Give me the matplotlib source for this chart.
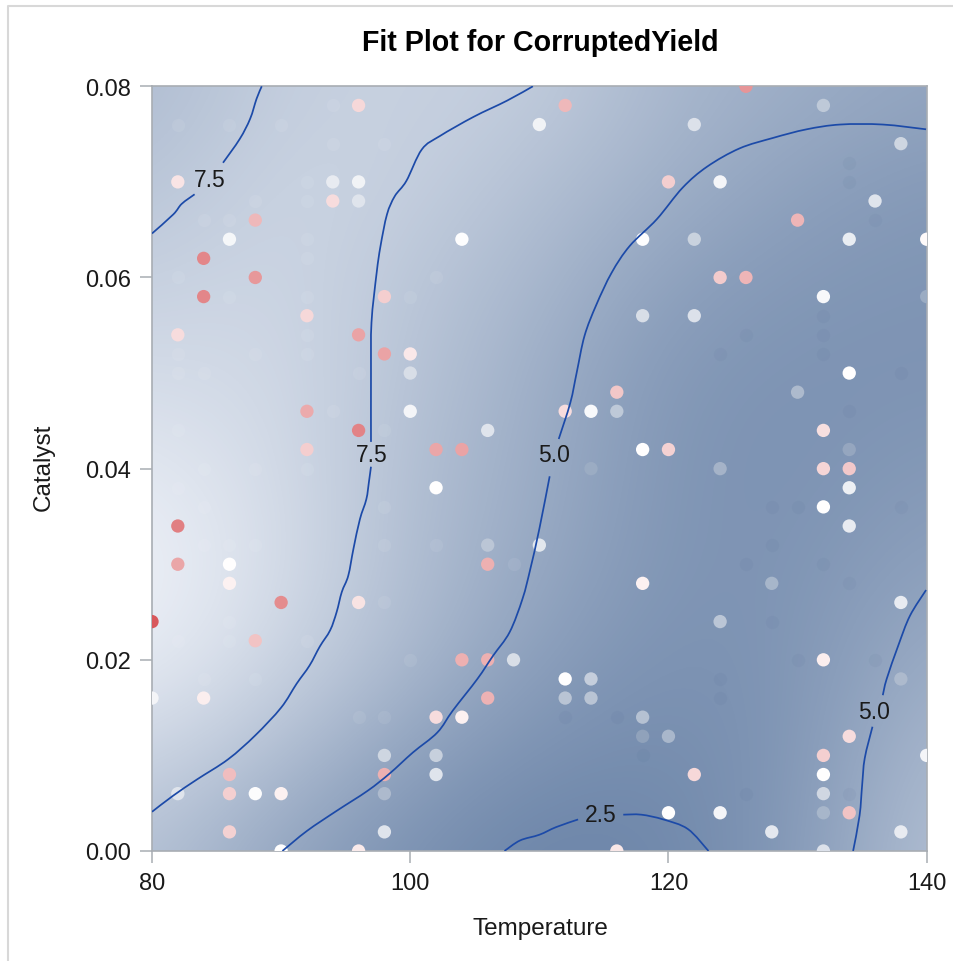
import matplotlib
matplotlib.use("Agg")
import matplotlib.pyplot as plt
from matplotlib.colors import LinearSegmentedColormap, Normalize
from matplotlib.lines import Line2D
from matplotlib.path import Path
from matplotlib.patches import PathPatch

plt.rcParams['font.family'] = ['Liberation Sans', 'DejaVu Sans']

# Fitted surface, read from the shading
grid_T = [80, 90, 100, 110, 120, 130, 140]
grid_C = [0.00, 0.01, 0.02, 0.03, 0.04, 0.05, 0.06, 0.07, 0.08]
grid_Z = [
    [6.62, 4.43, 2.94, 2.06, 2.31, 3.62, 6.49],
    [8.12, 6.31, 4.18, 2.94, 2.62, 3.37, 5.93],
    [9.80, 8.05, 5.87, 3.93, 3.00, 3.31, 5.06],
    [10.17, 8.68, 6.31, 4.68, 3.25, 3.25, 4.18],
    [9.55, 8.49, 6.43, 5.00, 3.31, 3.12, 3.62],
    [8.49, 8.30, 6.80, 5.18, 3.50, 3.19, 3.19],
    [7.68, 8.18, 7.05, 5.81, 4.18, 3.50, 3.31],
    [6.80, 8.00, 7.68, 6.49, 5.31, 4.18, 3.62],
    [6.18, 7.55, 7.80, 7.43, 5.81, 5.12, 4.50],
]

# Observations: temperature, catalyst, residual-like shade
obs_T = [96,82,94,96,94,96,88,86,84,104,88,84,98,92,82,96,98,100,100,92,100,96,106,92,102,104,110,112,
         126,132,122,138,120,124,136,130,118,122,134,140,124,126,132,140,118,122,134,130,116,112,114,116,
         132,134,118,120,114,124,132,134,102,132,134,134,82,106,110,82,86,106,86,90,96,80,88,118,128,124,138,
         104,106,108,132,84,80,106,112,114,112,114,138,102,104,118,118,120,134,98,102,132,140,86,98,102,122,132,
         82,86,88,90,98,132,86,98,120,124,132,134,128,138,90,96,116,132]
obs_C = [.078,.070,.070,.070,.068,.068,.066,.064,.062,.064,.060,.058,.058,.056,.054,.054,.052,.052,.050,.046,.046,.044,.044,.042,.042,.042,.076,.078,
         .080,.078,.076,.074,.070,.070,.068,.066,.064,.064,.064,.064,.060,.060,.058,.058,.056,.056,.050,.048,.048,.046,.046,.046,
         .044,.042,.042,.042,.040,.040,.040,.040,.038,.036,.038,.034,.034,.032,.032,.030,.030,.030,.028,.026,.026,.024,.022,.028,.028,.024,.026,
         .020,.020,.020,.020,.016,.016,.016,.018,.018,.016,.016,.018,.014,.014,.014,.012,.012,.012,.010,.010,.010,.010,.008,.008,.008,.008,.008,
         .006,.006,.006,.006,.006,.006,.002,.002,.004,.004,.004,.004,.002,.002,.000,.000,.000,.000]
obs_V = [.22,.15,-.2,-.12,.2,-.27,.4,-.08,.68,-.02,.58,.68,.28,.22,.2,.52,.52,.13,-.33,.48,-.1,.7,-.27,.28,.5,.52,-.12,.4,
         .6,-.55,-.3,-.42,.28,-.1,-.27,.42,-.02,-.46,-.18,.03,.29,.42,-.07,-.85,-.33,-.3,0,-.7,.32,.2,-.06,-.55,
         .18,-.9,0,.26,-.85,-.77,.24,.31,0,0,-.15,-.2,.72,-.58,-.25,.5,0,.45,.08,.65,.16,.95,.34,.08,-.75,-.58,-.2,
         .45,.45,-.33,.1,.1,-.1,.43,0,-.5,-.6,-.6,-.7,.2,.08,-.63,-.95,-.73,.2,-.42,-.48,.27,-.1,.37,.45,-.27,.22,0,
         -.27,.27,-.03,.08,-.7,-.4,.26,-.27,0,-.1,-.75,.34,-.23,-.2,0,.12,.14,-.3]

# Barely visible observations
faint_light_T = [94,82,86,90,98,94,92,88,92,86,84,92,92,102,82,86,92,100,92,82,92,88,96,82,84,82,94,98,84,88,92,84,82,86,84,88,98,98,98,86,92,82,86,84,88,108,102,100,96,98]
faint_light_C = [.078,.076,.076,.076,.074,.074,.070,.068,.068,.066,.066,.064,.062,.060,.060,.058,.058,.058,.054,.052,.052,.052,.050,.050,.050,.044,.046,.044,.040,.040,.040,.036,.038,.032,.032,.032,.036,.032,.026,.024,.022,.022,.022,.018,.018,.030,.032,.020,.014,.014]
faint_dark_T = [134,134,136,132,132,124,126,132,134,128,130,126,128,132,124,124,112,116,118,126,134,130,136,128,138,138,134]
faint_dark_C = [.072,.070,.066,.056,.054,.052,.054,.052,.046,.036,.036,.030,.024,.030,.018,.016,.014,.014,.010,.006,.006,.020,.020,.032,.050,.036,.028]

# Contour lines (gaps are where the labels sit)
contour_lines = [
    ([80.0,81.65,82.3,83.3], [.0646,.0666,.0677,.0687]),
    ([85.5,86.8,87.6,88.1,88.5], [.0720,.0745,.0766,.0787,.0800]),
    ([109.5,107.5,104.9,102.3,100.9,99.7,98.8,98.2,97.7,97.4,97.0,96.96,96.96],
     [.0800,.0785,.0768,.0748,.0734,.0701,.0685,.0666,.0633,.0605,.0553,.0500,.0428]),
    ([96.96,96.8,96.6,96.1,95.6,95.2,94.7,94.3,93.8,93.0,92.2,91.2,90.0,88.0,85.9,83.5,81.65,80.0],
     [.0402,.0386,.0368,.0347,.0316,.0288,.0271,.0250,.0231,.0214,.0194,.0175,.0150,.0121,.0096,.0075,.0058,.0041]),
    ([139.95,136.6,133.3,130.7,128.1,125.5,123.0,121.1,119.1,117.0,115.6,114.4,113.5,112.9,112.4,111.5],
     [.0755,.0760,.0760,.0755,.0746,.0735,.0716,.0694,.0661,.0633,.0605,.0571,.0539,.0501,.0469,.0431]),
    ([110.8,110.0,109.3,108.7,107.7,106.4,105.2,103.3,102.1,100.2,98.4,96.7,94.3,92.0,90.1],
     [.0392,.0337,.0295,.0264,.0229,.0204,.0180,.0147,.0124,.0103,.0081,.0063,.0042,.0021,.0000]),
    ([107.3,108.5,110.0,111.3,113.0], [.0000,.0011,.0017,.0025,.0033]),
    ([116.5,117.9,119.6,121.5,123.1], [.0038,.0038,.0033,.0023,.0000]),
    ([139.95,138.7,137.8,136.9,136.6], [.0273,.0246,.0215,.0180,.0163]),
    ([135.8,135.2,135.0,134.8,134.3], [.0130,.0097,.0069,.0037,.0000]),
]
contour_label_text = ['7.5', '7.5', '5.0', '2.5', '5.0']
contour_label_T = [84.45, 97.0, 111.15, 114.75, 135.9]
contour_label_C = [.0703, .0415, .0415, .0038, .0146]

x_ticks = [80, 100, 120, 140]
y_ticks = [0.00, 0.02, 0.04, 0.06, 0.08]
y_tick_labels = ['0.00', '0.02', '0.04', '0.06', '0.08']


def smooth_path(xs, ys):
    """Curved path passing through the points that were read."""
    verts = [(xs[0], ys[0])]
    codes = [Path.MOVETO]
    n = len(xs)
    for i in range(n - 1):
        x0, y0 = (xs[i - 1], ys[i - 1]) if i > 0 else (xs[i], ys[i])
        x3, y3 = (xs[i + 2], ys[i + 2]) if i + 2 < n else (xs[i + 1], ys[i + 1])
        x1, y1, x2, y2 = xs[i], ys[i], xs[i + 1], ys[i + 1]
        verts += [(x1 + (x2 - x0) / 6, y1 + (y2 - y0) / 6),
                  (x2 - (x3 - x1) / 6, y2 - (y3 - y1) / 6),
                  (x2, y2)]
        codes += [Path.CURVE4] * 3
    return Path(verts, codes)


W, H = 954, 962
fig = plt.figure(figsize=(W / 100, H / 100), dpi=100, facecolor='white')
ax = fig.add_axes([152 / W, 1 - 852 / H, (926.7 - 152) / W, (852 - 87.3) / H])

surface_cmap = LinearSegmentedColormap.from_list('surf', ['#6b84a8', '#f0f3f9'])
dT = (grid_T[1] - grid_T[0]) / 2
dC = (grid_C[1] - grid_C[0]) / 2
ax.imshow(grid_Z, origin='lower', aspect='auto', interpolation='bicubic', cmap=surface_cmap,
          norm=Normalize(2.0, 10.3),
          extent=[grid_T[0] - dT, grid_T[-1] + dT, grid_C[0] - dC, grid_C[-1] + dC], zorder=1)

ax.scatter(faint_light_T, faint_light_C, s=92, color='white', alpha=0.07, linewidths=0, zorder=2)
ax.scatter(faint_dark_T, faint_dark_C, s=92, color='#3a5480', alpha=0.05, linewidths=0, zorder=2)

obs_cmap = LinearSegmentedColormap.from_list('obs', ['#8a9db8', '#ffffff', '#d64f53'])
ax.scatter(obs_T, obs_C, c=obs_V, cmap=obs_cmap, vmin=-1, vmax=1, s=92, linewidths=0, zorder=3)

for xs, ys in contour_lines:
    ax.add_patch(PathPatch(smooth_path(xs, ys), fill=False, edgecolor='#1c4aa8', lw=1.25, zorder=4))
for label, t, c in zip(contour_label_text, contour_label_T, contour_label_C):
    ax.text(t, c, label, ha='center', va='center', fontsize=16.5, color='#1a1a1a', zorder=5)

ax.set_xlim(80, 140)
ax.set_ylim(0, 0.08)
ax.set_xticks(x_ticks)
ax.set_yticks(y_ticks)
ax.set_yticklabels(y_tick_labels)
ax.tick_params(axis='both', length=8.6, width=1.1, color='#a8adb3', labelsize=17,
               labelcolor='#1a1a1a', pad=6.5)
for s in ax.spines.values():
    s.set_color('#a8adb3')
    s.set_linewidth(1.2)

fig.text(540.5 / W, 1 - 929 / H, 'Temperature', ha='center', va='center', fontsize=17.5, color='#1a1a1a')
fig.text(44 / W, 1 - 467 / H, 'Catalyst', ha='center', va='center', rotation=90, fontsize=17.5, color='#1a1a1a')
fig.text(540.5 / W, 1 - 43 / H, 'Fit Plot for CorruptedYield', ha='center', va='center',
         fontsize=20.6, fontweight='bold', color='#000000')

fig.add_artist(Line2D([8 / W, 8 / W, 1], [0, 1 - 7 / H, 1 - 7 / H],
                      transform=fig.transFigure, color='#d8d8d8', lw=1.5))

fig.savefig('out.png', dpi=100)
